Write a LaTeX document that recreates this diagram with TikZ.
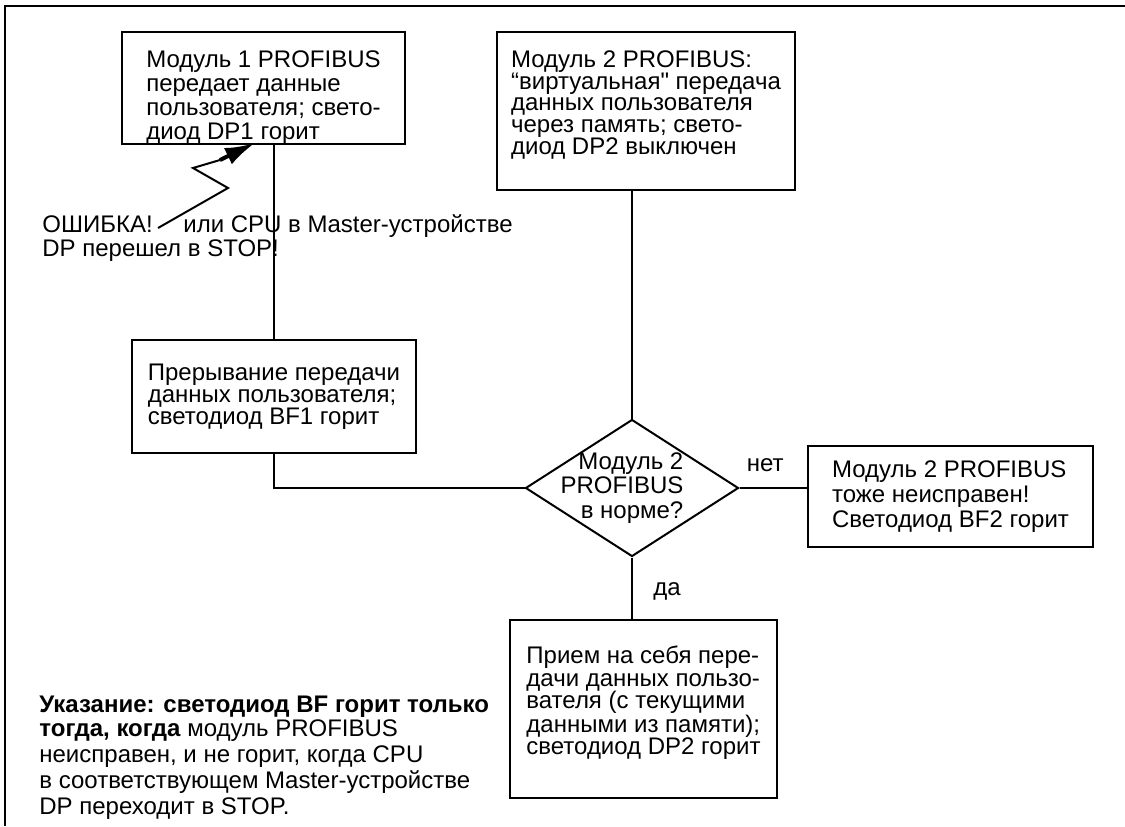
\documentclass[tikz,border=0pt]{standalone}
\usepackage{fontspec}
\setmainfont{Liberation Sans}
\newfontfamily\qtfont{Liberation Sans}[Ligatures=ResetAll]
\usetikzlibrary{shapes.geometric, arrows.meta, positioning}

\begin{document}
\begin{tikzpicture}[
  x=0.5pt, y=-0.5pt,
  box/.style={rectangle, draw=black, line width=1pt, align=left, inner sep=0pt,
              font=\fontsize{12}{11.5pt}\selectfont},
  chkbox/.style={diamond, draw=black, line width=1pt, align=right, aspect=1.55,
              minimum width=106.5pt, minimum height=68.5pt, inner sep=-4.5pt,
              font=\fontsize{12}{12.2pt}\selectfont},
  txt/.style={inner sep=0pt, font=\fontsize{12}{12pt}\selectfont},
  link/.style={line width=1pt},
  bolt/.style={line width=1pt, line join=miter}
]
\useasboundingbox (0,0) rectangle (1125,826);

% frame
\draw[line width=1.3pt] (5,826) -- (5,6) -- (1125,6);

\node[box, minimum width=141.5pt, minimum height=56pt, font=\fontsize{12}{12pt}\selectfont] (mod1) at (263.5,88)
  {\rule{0pt}{17.8pt}Модуль 1 PROFIBUS\\передает данные\\пользователя; свето-\\диод DP1 горит};
\node[box, minimum width=149pt, minimum height=79pt, font=\fontsize{12}{10.9pt}\selectfont] (mod2) at (646,111)
  {Модуль 2 PROFIBUS:\\“виртуальная{\qtfont"} передача\\данных пользователя\\через память; свето-\\диод DP2 выключен\rule[-8.5pt]{0pt}{0pt}};
\node[box, minimum width=142pt, minimum height=56.5pt, font=\fontsize{12}{11pt}\selectfont] (stop1) at (274,396.5)
  {Прерывание передачи\\данных пользователя;\\светодиод BF1 горит};
\node[chkbox] (chk) at (632,488) {Модуль 2\kern10pt\\PROFIBUS\kern10pt\\в норме?\kern10pt};
\node[box, minimum width=142.5pt, minimum height=50.5pt, font=\fontsize{12}{12.5pt}\selectfont] (fail2) at (950.5,496.5)
  {Модуль 2 PROFIBUS\\тоже неисправен!\\Светодиод BF2 горит};
\node[box, minimum width=133.5pt, minimum height=89pt, font=\fontsize{12}{11.1pt}\selectfont] (take) at (643.5,709)
  {Прием на себя пере-\\дачи данных пользо-\\вателя (с текущими\\данными из памяти);\\светодиод DP2 горит\rule[-8.5pt]{0pt}{0pt}};

% error texts
\node[txt, anchor=base west] (err) at (42,232) {ОШИБКА!};
\node[txt, anchor=base west] (cpu) at (183,232) {или CPU в Master-устройстве};
\node[txt, anchor=base west] (stp) at (42,256) {DP перешел в STOP!};

% note
\node[txt, anchor=north west, align=left, font=\fontsize{12}{11.75pt}\selectfont] (note) at (39,696)
  {\textbf{Указание: светодиод BF горит только}\\[0.25pt]
   \textbf{тогда, когда} модуль PROFIBUS\\[1.25pt]
   неисправен, и не горит, когда CPU\\[1.25pt]
   в соответствующем Master-устройстве\\[1pt]
   DP переходит в STOP.};

% connectors
\draw[line width=0.6pt] (stop1.north |- mod1.south) -- (stop1.north);
\draw[link] (stop1.south) |- (chk.west);
\draw[link] (chk.north |- mod2.south) -- (chk.north);
\draw[link] (chk.east) -- (chk.east -| fail2.west)
  node[txt, pos=0.38, above=7.5pt] (no) {нет};
\draw[line width=1.4pt] (chk.south) -- (chk.south |- take.north)
  node[txt, pos=0.55, right=10pt] (yes) {да};

% lightning
\coordinate (b0) at (158,228);
\coordinate (b1) at (228,188);
\coordinate (b2) at (193,168);
\coordinate (b3) at (220,160);
\coordinate (b4) at (255,143);
\draw[bolt] (b0) -- (b1) -- (b2) -- (b3);
\draw[-{Latex[length=15pt,width=9pt]}, line width=2pt] (b3) -- (b4);

\end{tikzpicture}
\end{document}
